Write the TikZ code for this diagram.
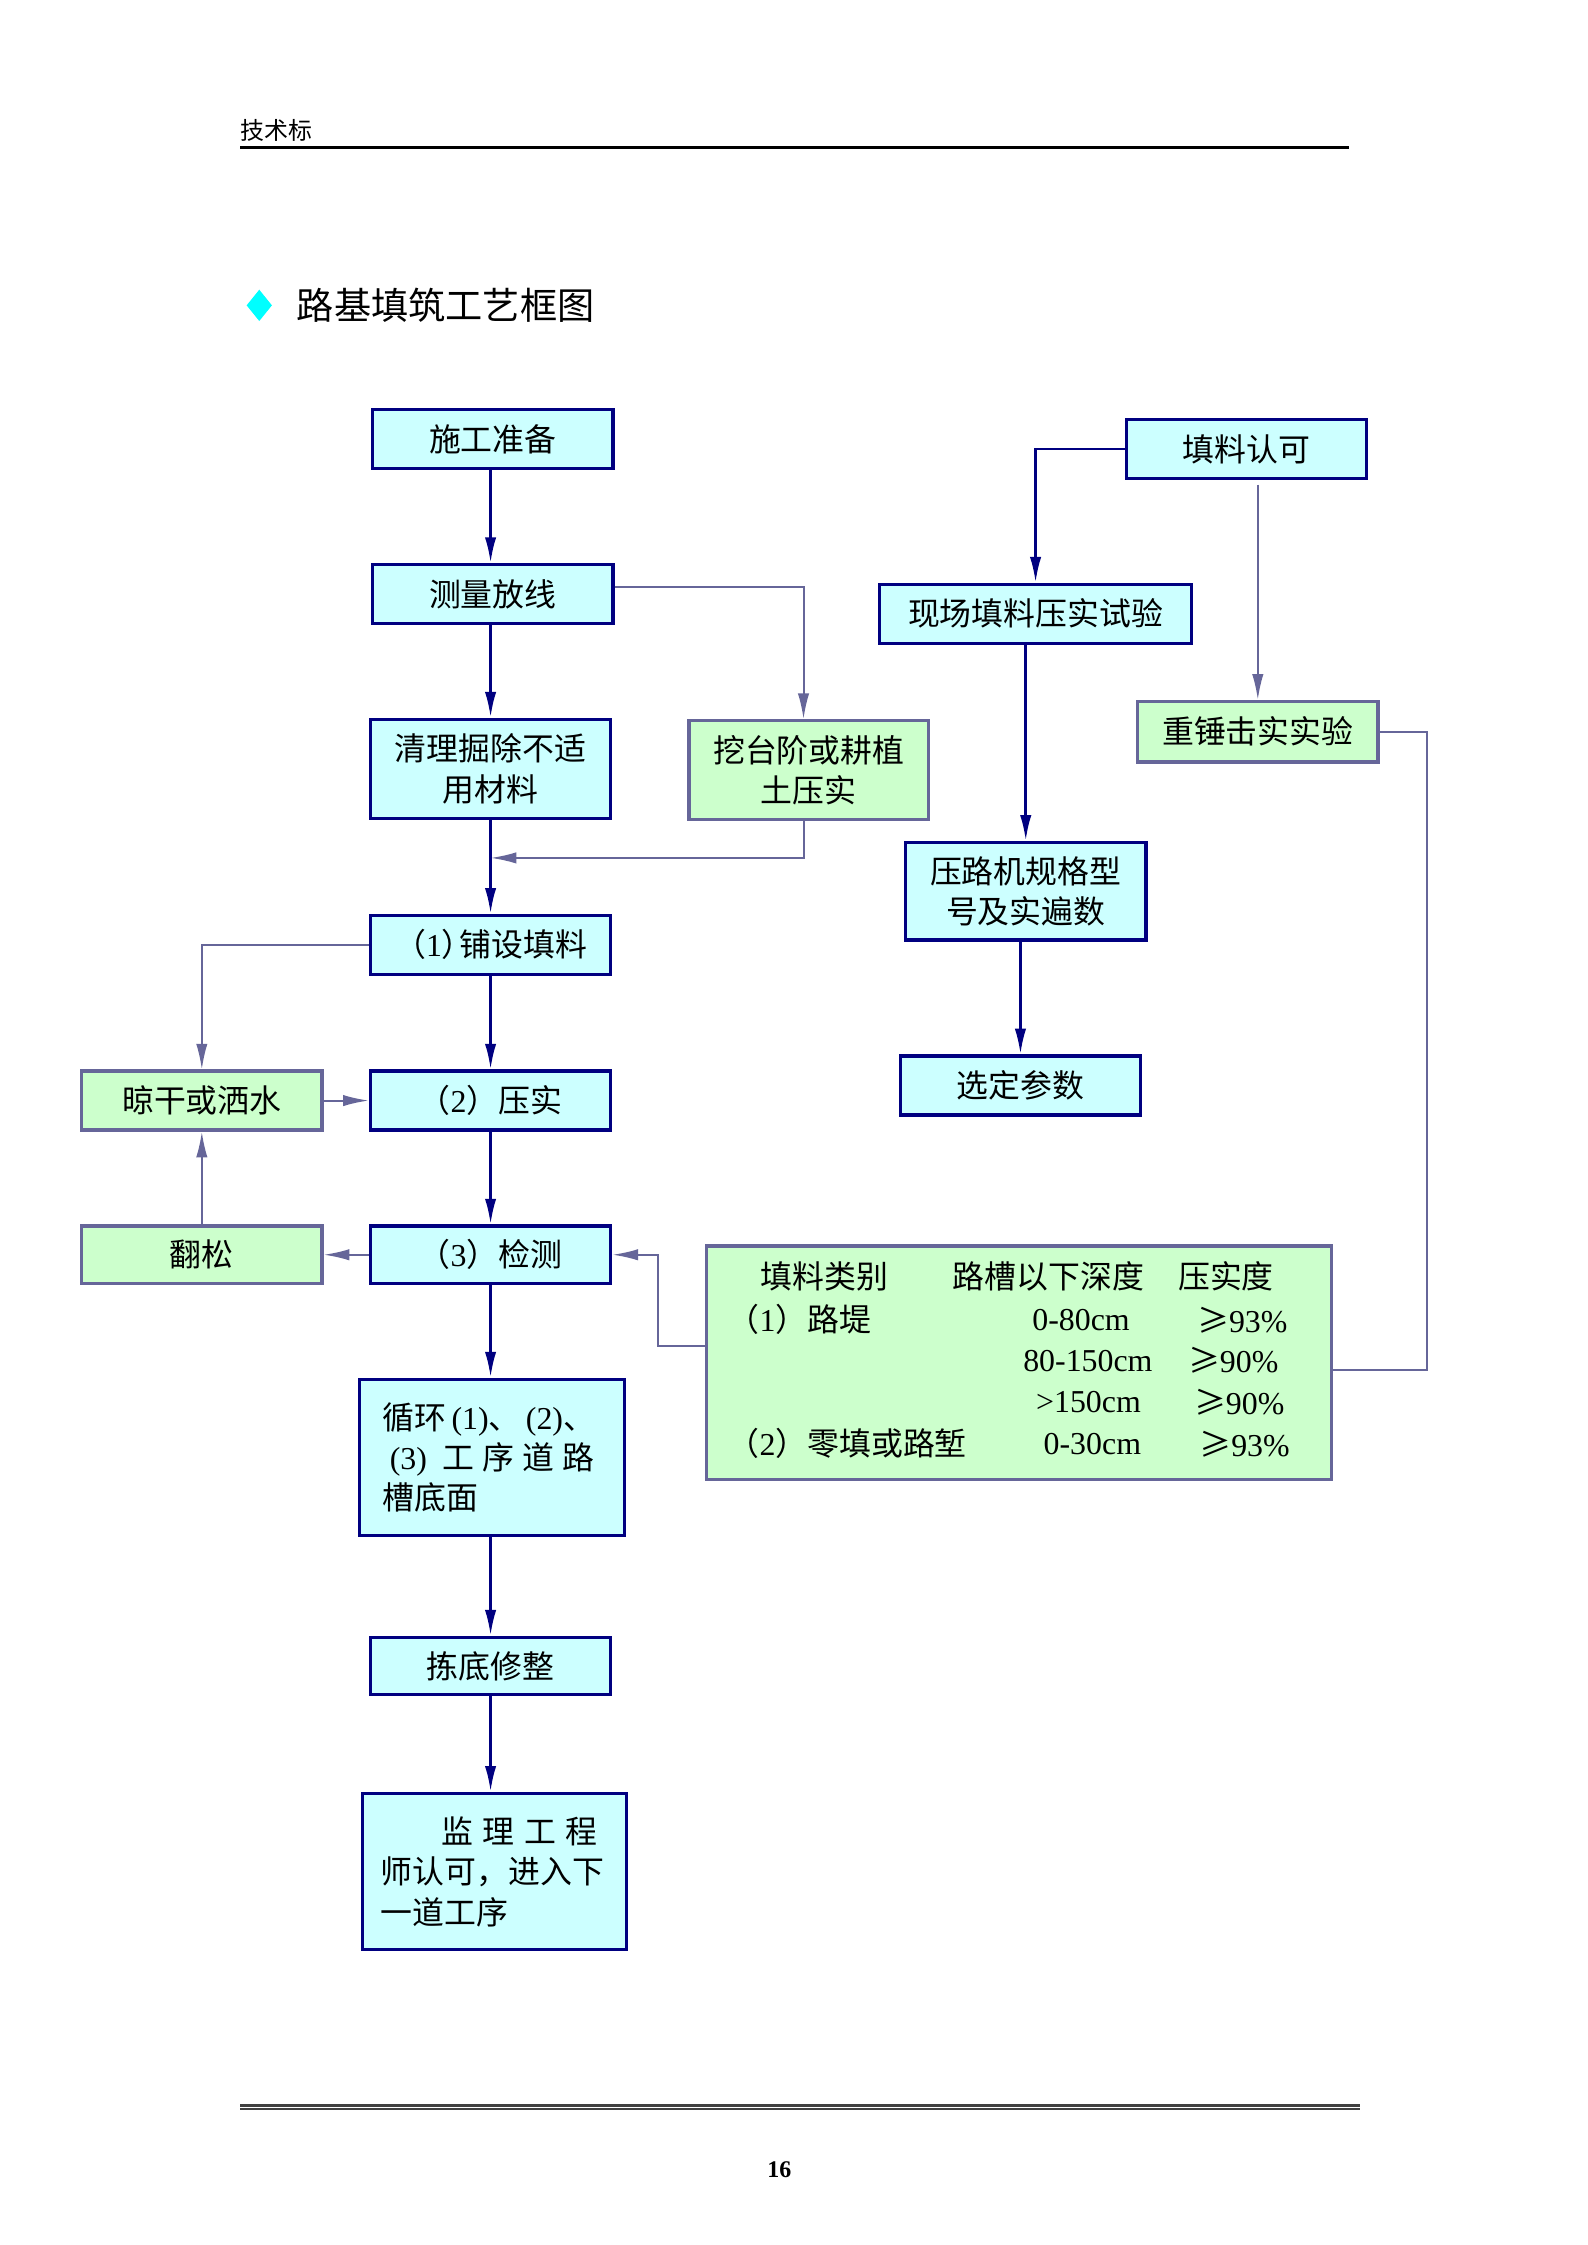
\documentclass[tikz,border=0pt]{standalone}
\usepackage{fontspec}
\setmainfont{Noto Sans CJK SC}
\newfontfamily\tnr{Liberation Serif}
\usetikzlibrary{arrows.meta,shapes.geometric}
\definecolor{navyline}{HTML}{000080}
\definecolor{slateline}{HTML}{666699}
\definecolor{cyanfill}{HTML}{CCFFFF}
\definecolor{greenfill}{HTML}{CCFFCC}
\definecolor{titlecyan}{HTML}{00FFFF}
\tikzset{
  bluebox/.style={draw=navyline,fill=cyanfill,line width=1.2pt,minimum width=3.18cm,
    minimum height=0.78cm,inner sep=0pt,align=center,font=\fontsize{12}{15.2}\selectfont},
  greenbox/.style={bluebox,draw=slateline,fill=greenfill},
  mainline/.style={draw=navyline,line width=1pt,->},
  sideline/.style={draw=slateline,line width=0.75pt},
  celltext/.style={anchor=west,inner sep=0pt,font=\fontsize{12}{15.2}\selectfont},
}
\begin{document}
\begin{tikzpicture}[>={Latex[length=3.4mm,width=1.5mm]}]
\useasboundingbox (0,0) rectangle (21,29.7);
% header
\node[anchor=west,inner sep=0pt,font=\fontsize{9}{11}\selectfont] (head) at (3.18,27.98) {技术标};
\draw[line width=1.2pt] (3.18,27.75) -- (17.84,27.75);
% title
\node[diamond,fill=titlecyan,minimum width=0.34cm,minimum height=0.42cm,inner sep=0pt] (bullet) at (3.43,25.66) {};
\node[anchor=west,inner sep=0pt,font=\fontsize{14}{17}\selectfont] (title) at (3.92,25.66) {路基填筑工艺框图};

% main column
\node[bluebox] (prep) at (6.52,23.89) {施工准备};
\node[bluebox] (survey) at (6.52,21.84) {测量放线};
\node[bluebox,minimum height=1.31cm] (clear) at (6.49,19.53) {清理掘除不适\\用材料};
\node[greenbox,minimum width=3.17cm,minimum height=1.31cm] (bench) at (10.70,19.51) {挖台阶或耕植\\土压实};
\node[bluebox] (lay) at (6.49,17.20) {（{\tnr 1}）\kern-.45em 铺设填料};
\node[greenbox] (dry) at (2.67,15.14) {晾干或洒水};
\node[bluebox] (press) at (6.49,15.14) {（{\tnr 2}）压实};
\node[greenbox,minimum height=0.76cm] (loosen) at (2.67,13.10) {翻松};
\node[bluebox,minimum height=0.76cm] (check) at (6.49,13.10) {（{\tnr 3}）检测};
\node[bluebox,minimum width=3.51cm,minimum height=2.07cm,text width=2.9cm,align=left] (loop) at (6.51,10.42)
  {循环\hspace{2pt}{\tnr(1)}、\hspace{2pt}{\tnr(2)}、\\
   \hspace*{.23em}{\tnr(3)}\hspace{.5em}工\hspace{.25em}序\hspace{.25em}道\hspace{.25em}路\\
   槽底面};
\node[bluebox,minimum height=0.76cm] (pick) at (6.49,7.66) {拣底修整};
\node[bluebox,minimum width=3.49cm,minimum height=2.07cm,text width=3.0cm,align=left] (accept) at (6.54,4.94)
  {\hspace*{1.9em}监\hspace{.3em}理\hspace{.3em}工\hspace{.3em}程\\
   师认可，进入下\\
   一道工序};

% right column
\node[bluebox] (approve) at (16.49,23.76) {填料认可};
\node[bluebox,minimum width=4.13cm] (field) at (13.70,21.58) {现场填料压实试验};
\node[greenbox,minimum height=0.80cm] (hammer) at (16.64,20.02) {重锤击实实验};
\node[bluebox,minimum height=1.29cm] (roller) at (13.57,17.91) {压路机规格型\\号及实遍数};
\node[bluebox] (param) at (13.50,15.34) {选定参数};

% compaction table
\node[greenbox,minimum width=8.26cm,minimum height=3.09cm] (spec) at (13.48,11.67) {};
\node[celltext] (h1) at (10.06,12.81) {填料类别};
\node[celltext] (h2) at (12.60,12.81) {路槽以下深度};
\node[celltext] (h3) at (15.58,12.81) {压实度};
\node[celltext] (a1) at (9.62,12.24) {（{\tnr 1}）路堤};
\node[celltext] (a2) at (13.65,12.24) {\tnr 0-80cm};
\node[celltext] (a3) at (15.83,12.24) {≥{\tnr 93\%}};
\node[celltext] (b2) at (13.53,11.70) {\tnr 80-150cm};
\node[celltext] (b3) at (15.71,11.70) {≥{\tnr 90\%}};
\node[celltext] (c2) at (13.70,11.15) {\tnr >150cm};
\node[celltext] (c3) at (15.79,11.15) {≥{\tnr 90\%}};
\node[celltext] (d1) at (9.62,10.60) {（{\tnr 2}）零填或路堑};
\node[celltext] (d2) at (13.80,10.60) {\tnr 0-30cm};
\node[celltext] (d3) at (15.86,10.60) {≥{\tnr 93\%}};

% main flow
\draw[mainline] (prep.south -| clear.north) -- (survey.north -| clear.north);
\draw[mainline] (survey.south -| clear.north) -- (clear.north);
\draw[mainline] (clear) -- (lay);
\draw[mainline] (lay) -- (press);
\draw[mainline] (press) -- (check);
\draw[mainline] (check) -- (loop.north -| check.south);
\draw[mainline] (loop.south -| pick.north) -- (pick);
\draw[mainline] (pick) -- (accept.north -| pick.south);
\draw[mainline] (approve.west) -| (field.north);
\draw[mainline] (field.south -| roller.north) -- (roller.north);
\draw[mainline] (roller.south -| param.north) -- (param.north);

% side branches
\coordinate (join) at (6.49,18.35);
\draw[sideline,->] ([yshift=0.1cm]survey.east) -| ([xshift=-0.07cm]bench.north);
\draw[sideline,->] ([xshift=-0.07cm]bench.south) |- (join);
\draw[sideline,->] (lay.west) -| (dry.north);
\draw[sideline,->] (dry) -- (press);
\draw[sideline,->] (check) -- (loosen);
\draw[sideline,->] (loosen) -- (dry);
\draw[sideline,->] ([yshift=0.22cm]spec.west) -- ++(-0.63,0) |- (check.east);
\draw[sideline,->] ([yshift=-0.06cm]approve.south -| hammer.north) -- (hammer.north);
\draw[sideline] (hammer.east) -- ++(0.63,0) |- ([yshift=-0.1cm]spec.east);

% footer
\draw[line width=1.2pt,black!75] (3.18,1.85) -- (17.99,1.85);
\draw[line width=0.6pt,black!75] (3.18,1.80) -- (17.99,1.80);
\node[font=\tnr\bfseries\fontsize{9}{11}\selectfont] (page) at (10.31,0.99) {16};
\end{tikzpicture}
\end{document}
